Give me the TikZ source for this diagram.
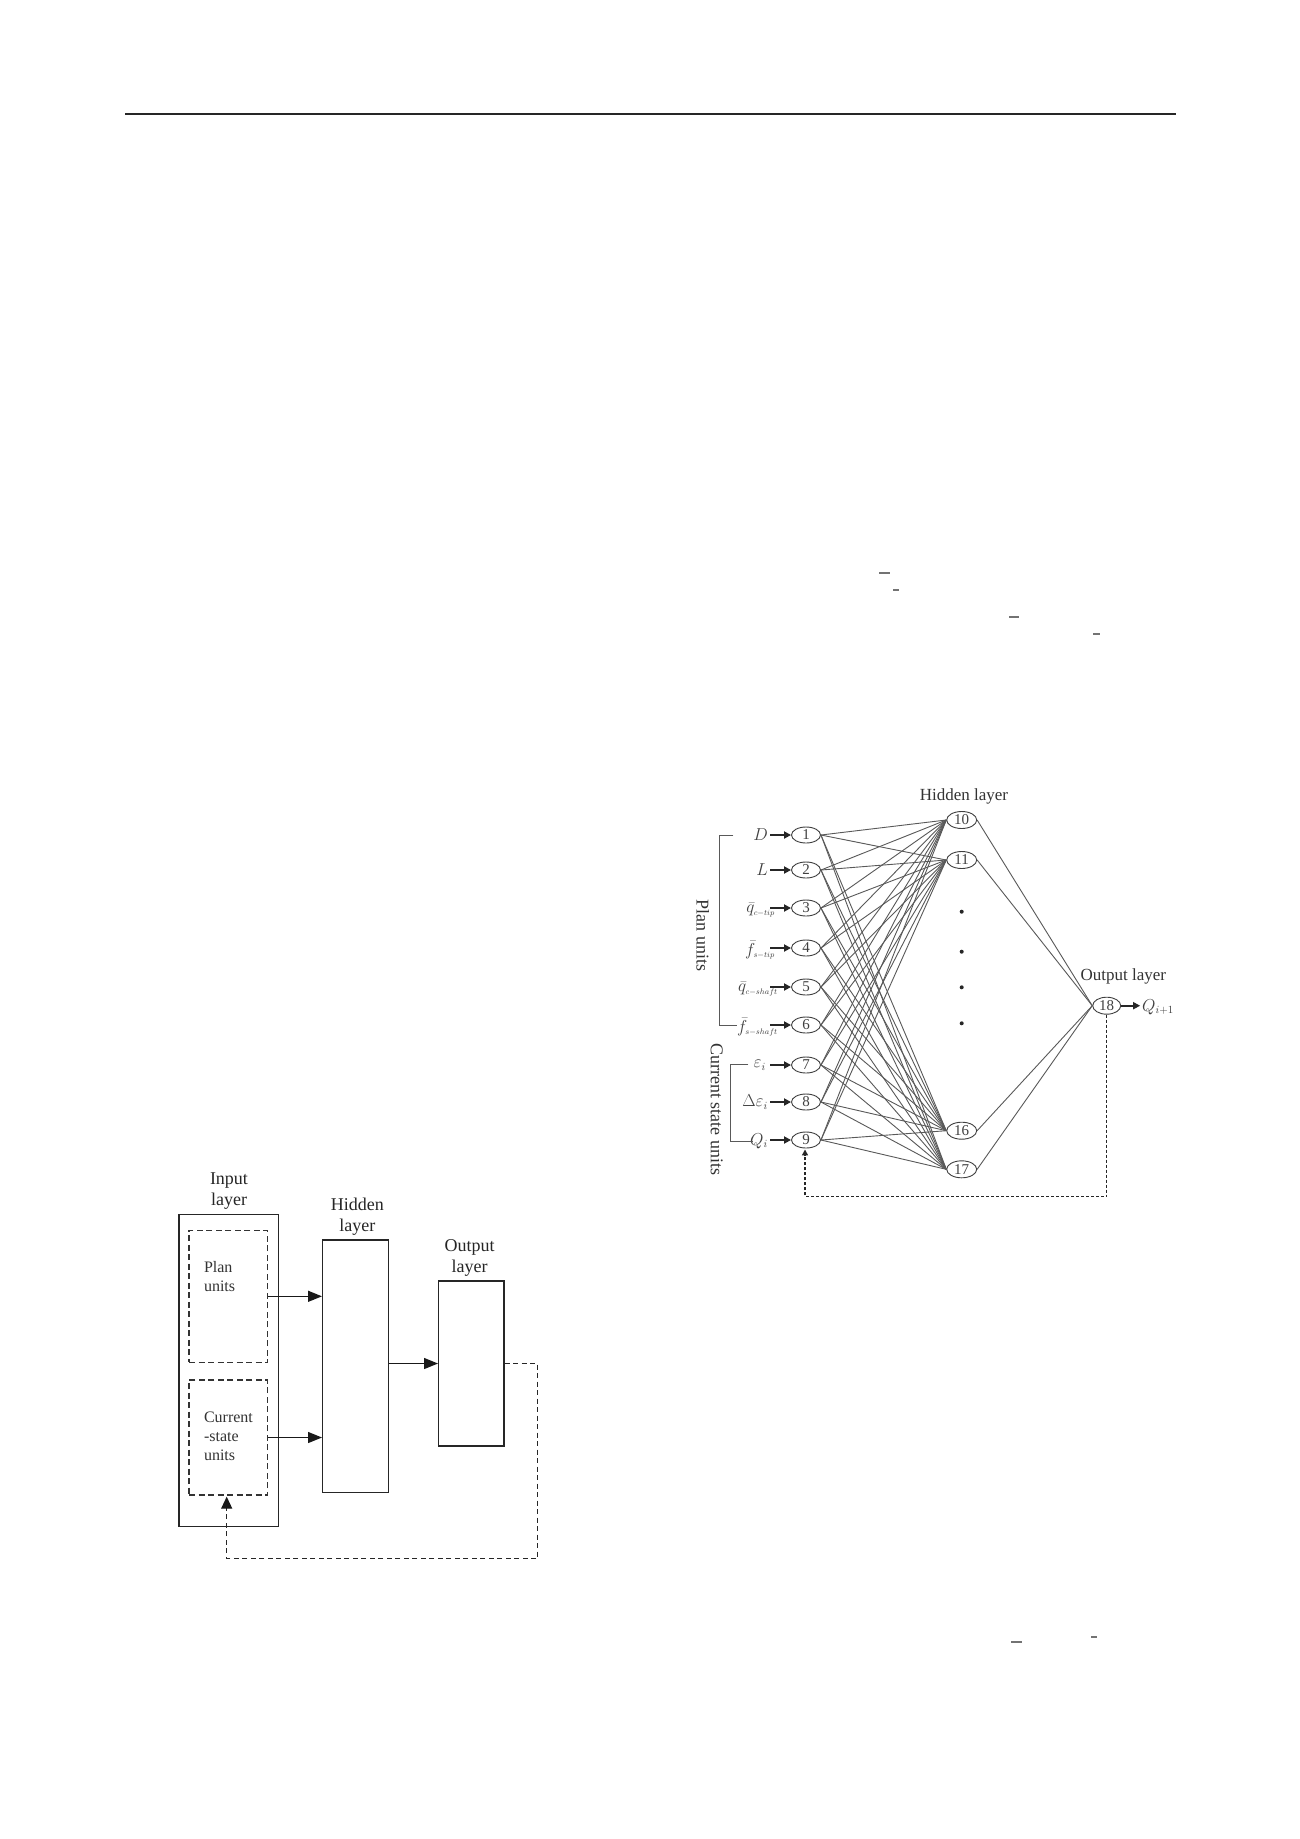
\documentclass[tikz,border=0pt]{standalone}
\usepackage{fontspec}
\setmainfont{Liberation Serif}
\usetikzlibrary{arrows.meta,shapes.geometric}
\begin{document}
\begin{tikzpicture}[x=1pt,y=-1pt,
  blk/.style={draw=black!85, line width=1.4pt, inner sep=0pt},
  dbox/.style={draw=black!80, line width=1.3pt, dash pattern=on 6pt off 3.5pt, inner sep=0pt},
  bigarrow/.style={draw=black!90, line width=1.3pt, -{Triangle[length=14pt,width=11pt]}},
  head/.style={align=center, font=\fontsize{18}{21}\selectfont, text=black!85},
  inner/.style={align=left, anchor=west, font=\fontsize{16}{19}\selectfont, text=black!80},
  nn/.style={ellipse, draw=black!75, line width=0.9pt, minimum width=29pt, minimum height=16pt, inner sep=0pt, font=\fontsize{15}{15}\selectfont, text=black!75},
  wire/.style={draw=black!65, line width=0.9pt},
  inarrow/.style={draw=black!85, line width=1.7pt, -{Triangle[length=7pt,width=7pt]}},
  lab/.style={anchor=east, inner sep=0pt, font=\fontsize{16}{16}\selectfont, text=black!75},
  brk/.style={draw=black!65, line width=1pt},
  fbdash/.style={draw=black!85, line width=1.4pt, dash pattern=on 5pt off 3.5pt},
  rot/.style={rotate=-90, font=\fontsize{18}{18}\selectfont, text=black!80},
  straymark/.style={draw=black!55, line width=1.3pt}
]
\useasboundingbox[fill=white] (0,0) rectangle (1300,1839);

% page rule and stray marks
\draw[draw=black!85, line width=2.4pt] (125,114) -- (1176,114);
\draw[straymark] (879,573) -- (890,573);
\draw[straymark] (893,590) -- (899,590);
\draw[straymark] (1009,617) -- (1019,617);
\draw[straymark] (1093,634) -- (1100,634);
\draw[straymark] (1011,1642) -- (1022,1642);
\draw[straymark] (1091,1637) -- (1097,1637);

% ---------------- left diagram ----------------
\node[blk, minimum width=99.3pt, minimum height=312.4pt] (inp) at (228.65,1370.5) {};
\node[dbox, minimum width=78.7pt, minimum height=132pt] (plan) at (228.35,1296.3) {};
\node[dbox, minimum width=78.7pt, minimum height=115pt] (cur) at (228.35,1437.5) {};
\node[blk, minimum width=66pt, minimum height=252.7pt] (hid) at (355.7,1366.35) {};
\node[blk, minimum width=65.3pt, minimum height=165pt] (out) at (471.35,1363.5) {};

\node[head] (tin) at (229,1191.2) {Input\\layer};
\node[head] (thid) at (357.3,1216.3) {Hidden\\layer};
\node[head] (tout) at (469.7,1258.3) {Output\\layer};
\node[inner] (tplan) at (200.5,1276.3) {Plan\\units};
\node[inner] (tcur) at (200.5,1436) {Current\\-state\\units};

\draw[bigarrow] (plan.east) -- (plan.east -| hid.west);
\draw[bigarrow] (cur.east) -- (cur.east -| hid.west);
\draw[bigarrow] (hid.east |- out.west) -- (out.west);

\coordinate (fbA) at (537.7,1558.3);
\coordinate (fbB) at (226.7,1558.3);
\draw[fbdash] (out.east) -| (fbA) -- (fbB) -- ([yshift=-12pt]fbB |- cur.south);
\draw[draw=black!90, line width=1.3pt, -{Triangle[length=12pt,width=11pt]}] ([yshift=-13pt]fbB |- cur.south) -- ([yshift=-1pt]fbB |- cur.south);

% ---------------- right diagram ----------------
\foreach \i/\y in {1/835,2/870,3/908,4/948,5/987,6/1025,7/1065,8/1102,9/1140}
  \node[nn] (n\i) at (806,\y) {\i};
\foreach \i/\y in {10/820,11/860,16/1130.7,17/1169.3}
  \node[nn, minimum width=30pt, minimum height=17pt] (n\i) at (961.7,\y) {\i};
\node[nn, minimum width=28pt, minimum height=17pt] (n18) at (1106.7,1005.7) {18};

\foreach \i in {1,...,9}
  \foreach \h in {10,11,16,17}
    \draw[wire] (n\i.east) -- (n\h.west);
\foreach \h in {10,11,16,17}
  \draw[wire] (n\h.east) -- (n18.west);

\foreach \y in {911.7,951.7,987.3,1023.3}
  \fill[black!85] (961.7,\y) circle (2pt);

\node[font=\fontsize{17}{17}\selectfont, text=black!80] (thl) at (964,796) {Hidden layer};
\node[font=\fontsize{17}{17}\selectfont, text=black!80] (tol) at (1123.3,976.7) {Output layer};

% input labels
\node[lab] (l1) at (768,835) {$D$};
\node[lab] (l2) at (768,870) {$L$};
\node[lab] (l3) at (775,910) {$\bar{q}_{\scriptscriptstyle c-tip}$};
\node[lab] (l4) at (775,950) {$\bar{f}_{\scriptscriptstyle s-tip}$};
\node[lab] (l5) at (778,989) {$\bar{q}_{\scriptscriptstyle c-shaft}$};
\node[lab] (l6) at (778,1027) {$\bar{f}_{\scriptscriptstyle s-shaft}$};
\node[lab] (l7) at (766,1065) {$\varepsilon_{i}$};
\node[lab] (l8) at (768,1102) {$\Delta\varepsilon_{i}$};
\node[lab] (l9) at (768,1141) {$Q_{i}$};
\foreach \i in {1,...,9}
  \draw[inarrow] ([xshift=-21pt]n\i.west) -- (n\i.west);

\draw[inarrow] (n18.east) -- ++(19pt,0) coordinate (qo);
\node[anchor=west, inner sep=0pt, font=\fontsize{16}{16}\selectfont, text=black!75] (lq) at (1142,1007) {$Q_{i+1}$};

% brackets
\draw[brk] (733.3,835) -- (719.3,835) -- (719.3,1025) -- (737,1025);
\draw[brk] (748.3,1064) -- (730,1064) -- (730,1141.7) -- (753,1141.7);
\node[rot] (tpu) at (702.7,935.7) {Plan units};
\node[rot] (tcs) at (716.7,1109) {Current state units};

% feedback
\coordinate (fc1) at (1106.7,1196.7);
\coordinate (fc2) at (805,1196.7);
\draw[draw=black!85, line width=1.4pt, dash pattern=on 3pt off 2pt] (n18.south) -- (fc1) -- (fc2) -- ([yshift=-7pt]n9.south -| fc2);
\draw[draw=black!85, line width=1.4pt, -{Triangle[length=6pt,width=6pt]}] ([yshift=-8pt]n9.south -| fc2) -- ([yshift=-1pt]n9.south -| fc2);

\end{tikzpicture}
\end{document}
